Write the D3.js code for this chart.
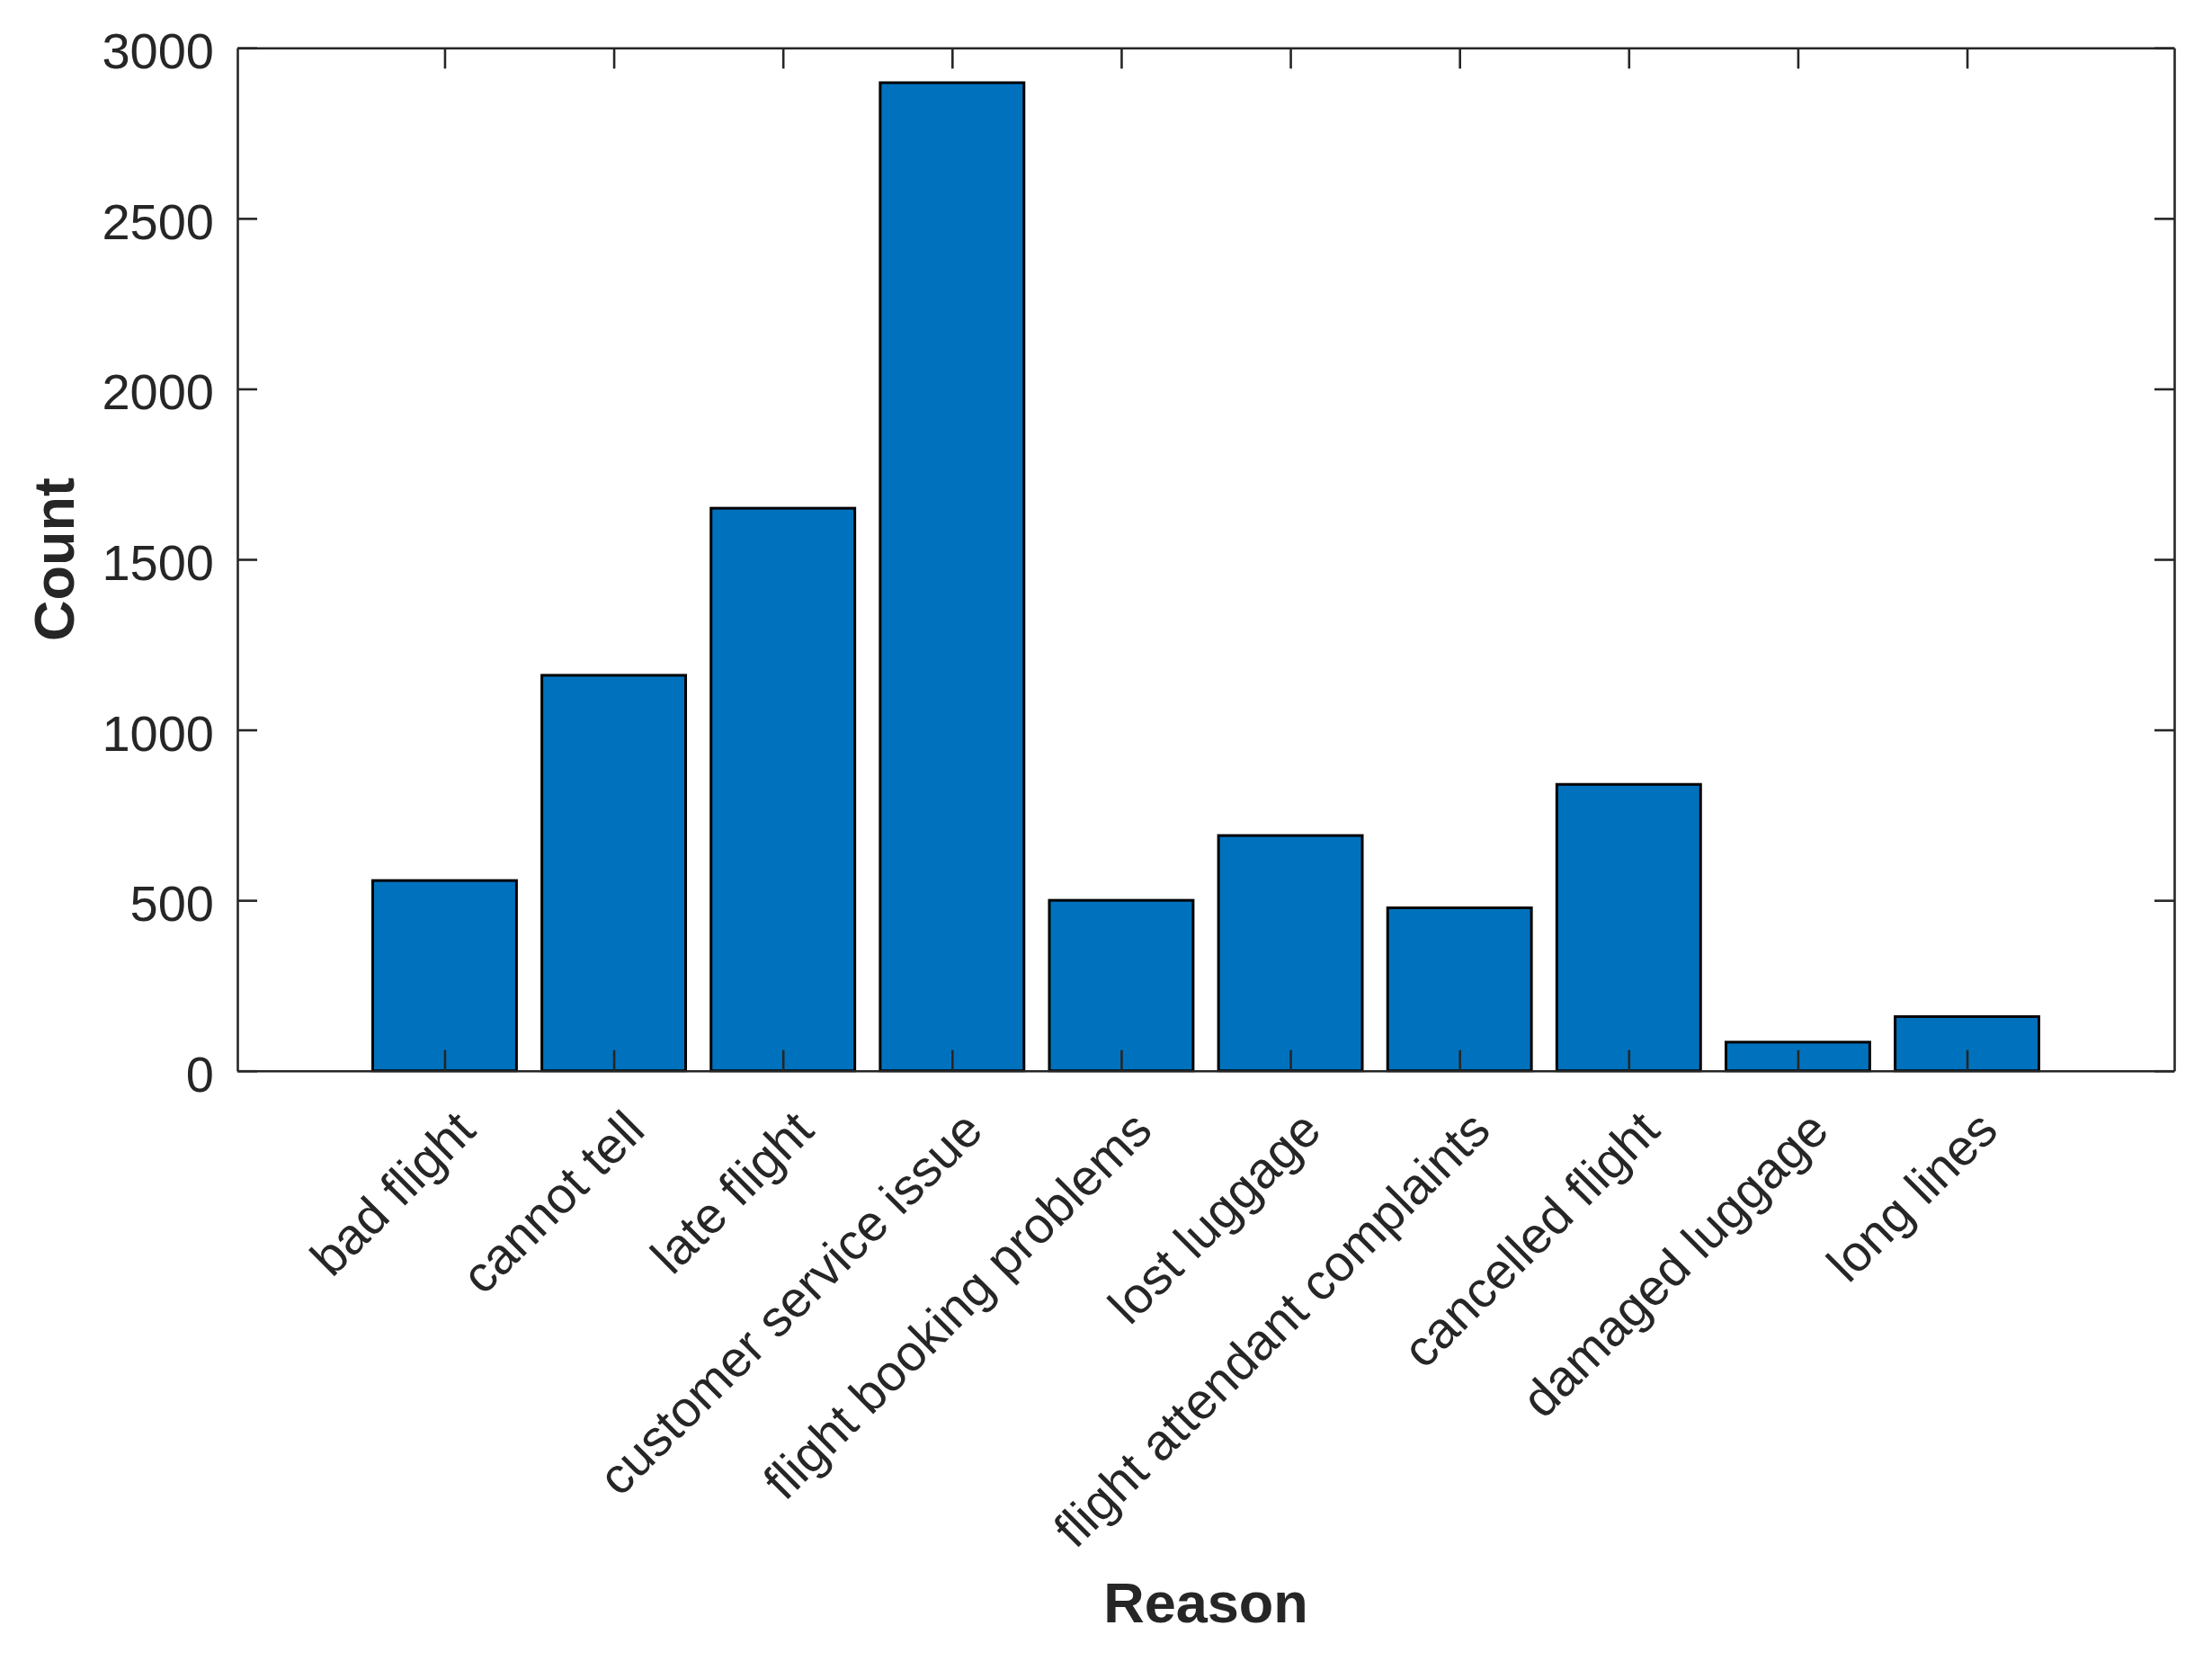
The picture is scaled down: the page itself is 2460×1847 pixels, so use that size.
<!DOCTYPE html>
<html>
<head>
<meta charset="utf-8">
<script src="https://cdn.jsdelivr.net/npm/d3@7"></script>
<style>
  html, body { margin: 0; padding: 0; background: #fff; }
  svg { display: block; }
  text { font-family: "Liberation Sans", Arial, Helvetica, sans-serif; fill: #262626; }
</style>
</head>
<body>
<script>
const categories = ["bad flight", "cannot tell", "late flight", "customer service issue",
  "flight booking problems", "lost luggage", "flight attendant complaints",
  "cancelled flight", "damaged luggage", "long lines"];
const counts = [558, 1160, 1650, 2898, 500, 690, 478, 840, 84, 159];
const yTicks = [0, 500, 1000, 1500, 2000, 2500, 3000];
const xLabel = "Reason";
const yLabel = "Count";

(function () {
const W = 2460, H = 1847;
const pL = 264, pR = 2418, pT = 53.3, pB = 1190.7;
const axisColor = "#262626";

const svg = d3.select("body").append("svg").attr("width", W).attr("height", H);

const x = d3.scaleLinear().domain([-0.225, categories.length + 1.225]).range([pL, pR]);
const y = d3.scaleLinear().domain([0, 3000]).range([pB, pT]);
const barW = 0.85;

// bars
svg.append("g").selectAll("rect").data(counts).join("rect")
  .attr("x", (d, i) => x(i + 1 - barW / 2))
  .attr("width", (d, i) => x(i + 1 + barW / 2) - x(i + 1 - barW / 2))
  .attr("y", d => y(d))
  .attr("height", d => y(0) - y(d))
  .attr("fill", "#0072BD")
  .attr("stroke", "#000")
  .attr("stroke-width", 3);

// axes (box with inward ticks)
const tickLen = 23;
const xTickVals = categories.map((c, i) => i + 1);

const gB = svg.append("g").attr("transform", `translate(0,${pB})`)
  .call(d3.axisBottom(x).tickValues(xTickVals).tickSizeInner(-tickLen).tickSizeOuter(0).tickFormat(""));
const gT = svg.append("g").attr("transform", `translate(0,${pT})`)
  .call(d3.axisTop(x).tickValues(xTickVals).tickSizeInner(-tickLen).tickSizeOuter(0).tickFormat(""));
const gL = svg.append("g").attr("transform", `translate(${pL},0)`)
  .call(d3.axisLeft(y).tickValues(yTicks).tickSizeInner(-tickLen + 1).tickSizeOuter(0).tickFormat(""));
const gR = svg.append("g").attr("transform", `translate(${pR},0)`)
  .call(d3.axisRight(y).tickValues(yTicks).tickSizeInner(-tickLen + 1).tickSizeOuter(0).tickFormat(""));

[gB, gT, gL, gR].forEach(g => {
  g.select(".domain").attr("stroke", axisColor).attr("stroke-width", 2.6);
  g.selectAll(".tick line").attr("stroke", axisColor).attr("stroke-width", 2.6);
});

// y tick labels
svg.append("g").selectAll("text").data(yTicks).join("text")
  .attr("x", pL - 26)
  .attr("y", d => y(d) + 23)
  .attr("text-anchor", "end")
  .attr("font-size", 56)
  .text(d => d);

// x tick labels rotated 45
svg.append("g").selectAll("text").data(categories).join("text")
  .attr("transform", (d, i) => `translate(${x(i + 1) + 37},${pB + 69}) rotate(-45)`)
  .attr("text-anchor", "end")
  .attr("font-size", 56.5)
  .text(d => d);

// axis titles
svg.append("text")
  .attr("x", (pL + pR) / 2)
  .attr("y", 1804)
  .attr("text-anchor", "middle")
  .attr("font-size", 63)
  .attr("font-weight", "bold")
  .text(xLabel);

svg.append("text")
  .attr("transform", `translate(82,${(pT + pB) / 2}) rotate(-90)`)
  .attr("text-anchor", "middle")
  .attr("font-size", 63)
  .attr("font-weight", "bold")
  .text(yLabel);
})();
</script>
</body>
</html>
